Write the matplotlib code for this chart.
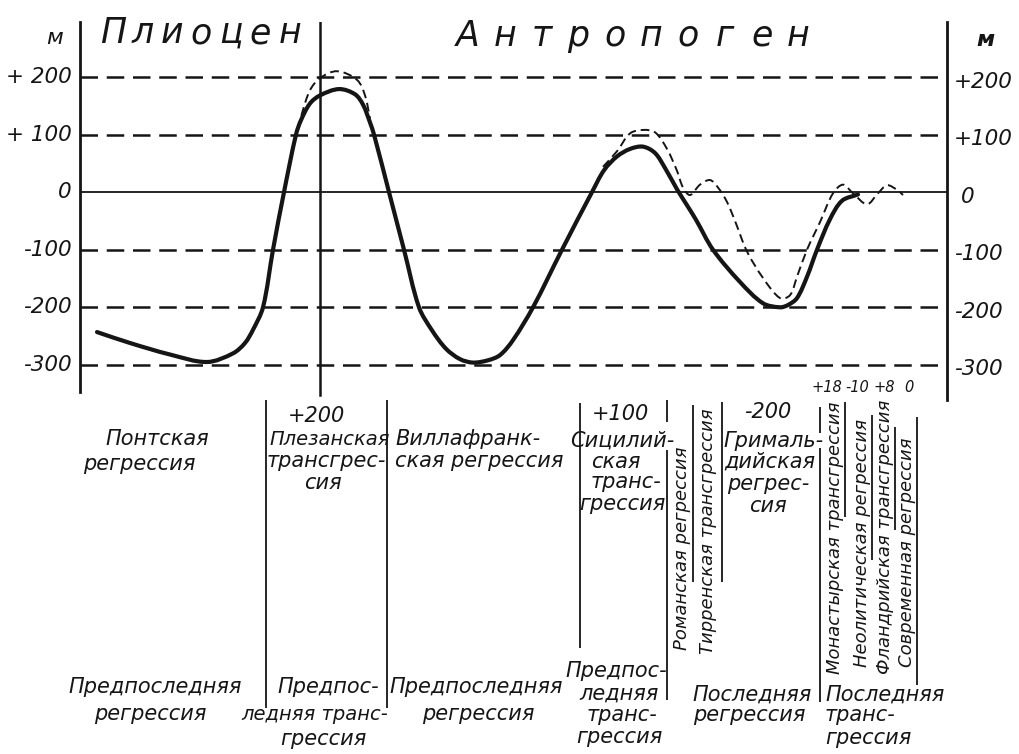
import numpy as np
import matplotlib
matplotlib.use("Agg")
import matplotlib.pyplot as plt
from matplotlib.path import Path
from matplotlib.patches import PathPatch

# --- data (x: relative time units, y: sea level, m) ---
grid_levels = [200, 100, -100, -200, -300]
label_levels = [200, 100, 0, -100, -200, -300]
left_labels = ["+ 200", "+ 100", "0", "-100", "-200", "-300"]
right_labels = ["+200", "+100", "0", "-100", "-200", "-300"]

solid_t = [17, 50, 90, 127, 153, 165, 173, 183, 193, 204, 216, 221, 230, 240, 259,
           275, 283, 290, 294, 309, 324, 339, 352, 366, 380, 393, 408, 420, 433,
           453, 482, 512, 524, 537, 550, 563, 575, 585, 597, 606, 616, 633, 660, 683,
           700, 708, 717, 727, 737, 750, 762, 778]
solid_h = [-243, -262, -282, -295, -280, -262, -239, -200, -100, 0, 100, 125, 154, 168, 179,
           170, 152, 121, 100, 0, -100, -200, -240, -272, -290, -296, -292, -283, -257,
           -200, -100, 0, 38, 62, 75, 79, 68, 42, 5, -20, -48, -100, -156, -193,
           -200, -196, -184, -147, -100, -47, -15, -4]

dash1_t = [218, 222, 230, 240, 257, 277, 285, 290]
dash1_h = [110, 137, 177, 198, 210, 195, 168, 128]

dash2_t = [523, 537, 550, 563, 575, 587, 597, 603, 610, 620, 630, 638, 647, 655, 667,
           683, 700, 710, 717, 727, 740, 753, 763, 773, 787, 798, 807, 817, 823]
dash2_h = [44, 71, 102, 108, 104, 75, 37, 8, -5, 13, 21, 8, -17, -50, -103,
           -149, -184, -179, -147, -100, -52, -2, 13, -2, -21, -2, 12, 4, -5]

boundary_t = 240  # Pliocene / Anthropogene

title_left = "Плиоцен"
title_right = "Антропоген"

lower_labels = [
    ("Понтская", 157, 445, "center"), ("регрессия", 139, 470, "center"),
    ("+200", 316, 422, "center"), ("Плезанская", 330, 445, "center"),
    ("трансгрес-", 326, 467, "center"), ("сия", 323, 489, "center"),
    ("Виллафранк-", 395, 445, "left"), ("ская регрессия", 395, 467, "left"),
    ("+100", 620, 420, "center"), ("Сицилий-", 622, 447, "center"),
    ("ская", 616, 468, "center"), ("транс-", 626, 488, "center"),
    ("грессия", 622, 510, "center"),
    ("-200", 768, 418, "center"), ("Грималь-", 773, 447, "center"),
    ("дийская", 770, 468, "center"), ("регрес-", 768, 490, "center"),
    ("сия", 768, 512, "center"),
    ("Предпоследняя", 155, 693, "center"), ("регрессия", 150, 720, "center"),
    ("Предпос-", 328, 693, "center"), ("ледняя транс-", 315, 720, "center"),
    ("грессия", 323, 745, "center"),
    ("Предпоследняя", 476, 693, "center"), ("регрессия", 478, 720, "center"),
    ("Предпос-", 616, 677, "center"), ("ледняя", 619, 700, "center"),
    ("транс-", 622, 721, "center"), ("грессия", 619, 743, "center"),
    ("Последняя", 752, 701, "center"), ("регрессия", 749, 721, "center"),
    ("Последняя", 825, 701, "left"), ("транс-", 825, 721, "left"),
    ("грессия", 825, 744, "left"),
]
narrow_labels = {"Плезанская", "ледняя транс-"}

rotated_labels = [
    ("Романская регрессия", 682, 548),
    ("Тирренская трансгрессия", 708, 531),
    ("Монастырская трансгрессия", 835, 538),
    ("Неолитическая регрессия", 862, 543),
    ("Фландрийская трансгрессия", 885, 537),
    ("Современная регрессия", 907, 552),
]

small_numbers = [("+18", 827), ("-10", 857), ("+8", 884), ("0", 909)]

dividers = [(266, 400, 708), (387, 400, 708), (580, 403, 648), (667, 400, 422),
            (667, 450, 700), (693, 405, 582), (722, 402, 582), (820, 407, 433),
            (820, 448, 702), (845, 402, 517), (872, 415, 560), (895, 427, 530),
            (917, 417, 685)]

INK = "#151515"
TXT = dict(color=INK, style="italic", family="DejaVu Sans")


def smooth_path(xs, ys, ky=0.576):
    # cubic Hermite through the read points, tangents by chord length
    p = np.column_stack([xs, ys]).astype(float)
    d = np.hypot(np.diff(p[:, 0]), np.diff(p[:, 1]) * ky)
    m = np.zeros_like(p)
    m[0] = (p[1] - p[0]) / d[0]
    m[-1] = (p[-1] - p[-2]) / d[-1]
    for i in range(1, len(p) - 1):
        m[i] = (p[i + 1] - p[i - 1]) / (d[i - 1] + d[i])
    verts = [p[0]]
    codes = [Path.MOVETO]
    for i in range(len(p) - 1):
        verts += [p[i] + m[i] * d[i] / 3, p[i + 1] - m[i + 1] * d[i] / 3, p[i + 1]]
        codes += [Path.CURVE4] * 3
    return Path(verts, codes)


W, H = 1019, 754
fig = plt.figure(figsize=(W / 100, H / 100), dpi=100)

ov = fig.add_axes([0, 0, 1, 1])
ov.set_xlim(0, W)
ov.set_ylim(H, 0)
ov.axis("off")

ax = fig.add_axes([80 / W, 1 - 400 / H, 867 / W, 378 / H])
ax.patch.set_alpha(0)
ax.set_xlim(0, 867)
ax.set_ylim(-361, 295.5)
ax.set_xticks([])
ax.set_yticks([])
for s in ["top", "bottom"]:
    ax.spines[s].set_visible(False)
for s in ["left", "right"]:
    ax.spines[s].set_linewidth(2.0)
    ax.spines[s].set_color(INK)
ax.spines["left"].set_bounds(-347, 295.5)

for lev in grid_levels:
    ax.axhline(lev, color=INK, lw=1.8, dashes=(7, 3.5))
ax.axhline(0, color=INK, lw=1.3)
ax.axvline(boundary_t, ymin=0.013, ymax=1, color=INK, lw=1.8)

ax.add_patch(PathPatch(smooth_path(solid_t, solid_h), fill=False, edgecolor=INK,
                       lw=3.0, capstyle="round", joinstyle="round"))
for t, h in [(dash1_t, dash1_h), (dash2_t, dash2_h)]:
    ax.add_patch(PathPatch(smooth_path(t, h), fill=False, edgecolor=INK,
                           lw=1.4, linestyle=(0, (4.5, 2.5))))

tr = ax.get_yaxis_transform()
for lev, lab in zip(label_levels, left_labels):
    ax.text(-0.01, lev, lab, transform=tr, ha="right", va="center", fontsize=15.5, **TXT)
for lev, lab in zip(label_levels, right_labels):
    xoff = 1.016 if lab == "0" else 1.008
    ax.text(xoff, lev - 8, lab, transform=tr, ha="left", va="center", fontsize=15.5, **TXT)

ov.text(55, 44, "м", ha="center", va="baseline", fontsize=16, **TXT)
ov.text(986, 46, "м", ha="center", va="baseline", fontsize=16, fontweight="bold", **TXT)

# spaced titles
for i, ch in enumerate(title_left):
    ov.text(113 + i * 29.5, 43, ch, ha="center", va="baseline", fontsize=25, **TXT)
for i, ch in enumerate(title_right):
    ov.text(468 + i * 36.7, 46, ch, ha="center", va="baseline", fontsize=25, **TXT)

for s, x, y, ha in lower_labels:
    fs = 14 if s in narrow_labels else 15
    ov.text(x, y, s, ha=ha, va="baseline", fontsize=fs, **TXT)
for s, x, y in rotated_labels:
    ov.text(x, y, s, ha="center", va="center", rotation=90, fontsize=13, **TXT)
for s, x in small_numbers:
    ov.text(x, 392, s, ha="center", va="baseline", fontsize=10.5, **TXT)

ov.vlines([d[0] for d in dividers], [d[1] for d in dividers], [d[2] for d in dividers],
          color=INK, lw=1.3)

fig.savefig("out.png", dpi=100, facecolor="white")
